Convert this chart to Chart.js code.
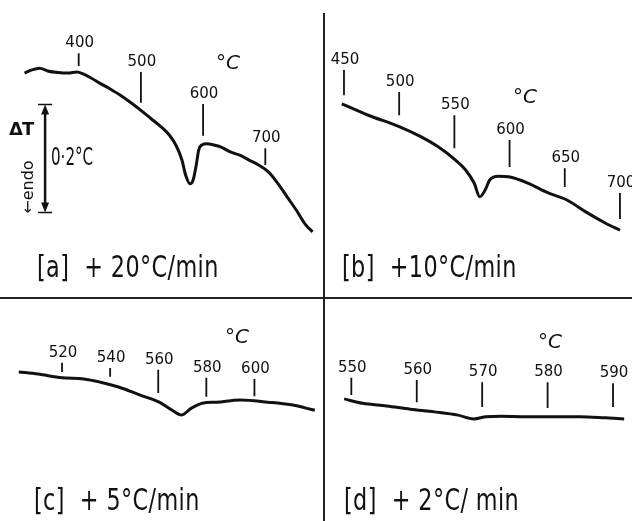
<!DOCTYPE html>
<html>
<head>
<meta charset="utf-8">
<script src="https://cdn.jsdelivr.net/npm/chart.js@4.4.1/dist/chart.umd.min.js"></script>
<style>
  body { margin: 0; background: #fff; }
  #wrap { position: relative; width: 632px; height: 521px; overflow: hidden; background: #fff; color: #111; }
  #wrap canvas { position: absolute; left: 0; top: 0; }
  .txt { position: absolute; white-space: pre; line-height: 1; font-family: "DejaVu Sans", sans-serif; }
  .narrow { font-family: "DejaVu Sans Condensed", "DejaVu Sans", sans-serif; transform-origin: left top; }
  .panel-label { font-size: 31px; letter-spacing: 0.5px; transform: scaleX(0.8); }
  .unit { font-size: 20px; font-style: italic; }
  .vline { position: absolute; left: 323px; top: 13px; width: 2px; height: 508px; background: #222; }
  .hline { position: absolute; left: 0; top: 297px; width: 632px; height: 2px; background: #222; }
</style>
</head>
<body>
<div id="wrap">
  <canvas id="dta" width="632" height="521"></canvas>
  <div class="vline"></div>
  <div class="hline"></div>

  <div class="txt" style="left:9px;top:120px;font-size:18px;font-weight:bold;letter-spacing:-1px">ΔT</div>
  <div class="txt narrow" style="left:51px;top:145px;font-size:24px;transform:scaleX(0.7)">0·2°C</div>
  <div class="txt" style="left:28px;top:187px;font-size:16px;transform:translate(-50%,-50%) rotate(-90deg);transform-origin:center">←endo</div>

  <div class="txt unit" style="left:216px;top:52px">°C</div>
  <div class="txt unit" style="left:513px;top:86px">°C</div>
  <div class="txt unit" style="left:225px;top:326px">°C</div>
  <div class="txt unit" style="left:538px;top:331px">°C</div>

  <div class="txt narrow panel-label" style="left:37px;top:251px">[a]  + 20°C/min</div>
  <div class="txt narrow panel-label" style="left:342px;top:251px">[b]  +10°C/min</div>
  <div class="txt narrow panel-label" style="left:34px;top:484px">[c]  + 5°C/min</div>
  <div class="txt narrow panel-label" style="left:344px;top:484px">[d]  + 2°C/ min</div>
</div>

<script>
// DTA traces; temperature in °C, deflection in units of 0.01 °C
// [a] +20 °C/min
const tempA  = [313, 325, 337, 350, 367, 383, 397, 408, 420, 433, 450, 467, 483, 500, 516, 533, 546, 557, 566, 572, 579, 584, 589, 593, 598, 606, 617, 629, 644, 659, 674, 689, 705, 720, 735, 750, 765, 776];
const deltaA = [23.5, 24.1, 24.4, 23.9, 23.6, 23.5, 23.7, 23.3, 22.6, 21.7, 20.6, 19.4, 18.1, 16.6, 15.1, 13.5, 12.0, 10.0, 7.4, 4.6, 3.0, 3.7, 6.5, 9.3, 10.2, 10.4, 10.2, 9.8, 8.9, 8.3, 7.4, 6.5, 5.2, 3.1, 0.6, -1.9, -4.6, -5.9];
const ticksA    = [400, 500, 600, 700];
const tickTopA  = [27.2, 23.7, 17.8, 9.6];
const tickBaseA = [24.8, 18.0, 11.9, 6.5];

// [b] +10 °C/min
const tempB  = [448, 472, 500, 520, 535, 551, 560, 568, 573, 578, 582, 590, 599, 617, 634, 652, 669, 687, 700];
const deltaB = [17.8, 15.7, 13.6, 11.7, 9.9, 7.4, 5.6, 3.1, 0.6, 1.9, 3.7, 4.4, 4.3, 3.1, 1.4, 0.0, -2.2, -4.3, -5.6];
const ticksB    = [450, 500, 550, 600, 650, 700];
const tickTopB  = [24.1, 20.0, 15.7, 11.1, 5.9, 1.3];
const tickBaseB = [19.4, 15.7, 9.6, 6.1, 2.4, -3.5];

// [c] +5 °C/min
const tempC  = [502, 510, 520, 529, 536, 543.5, 552.5, 560.4, 565.8, 569.6, 573.8, 578.3, 584.3, 594, 605.5, 615.3, 625.1];
const deltaC = [5.2, 4.8, 4.1, 3.9, 3.3, 2.4, 0.9, -0.4, -1.9, -2.8, -1.5, -0.6, -0.4, 0.0, -0.4, -0.9, -1.9];
const ticksC    = [520, 540, 560, 580, 600];
const tickTopC  = [6.9, 5.9, 5.6, 4.1, 3.9];
const tickBaseC = [5.2, 4.3, 1.3, 0.6, 0.7];

// [d] +2 °C/min
const tempD  = [548.9, 551.7, 555.4, 559.0, 562.7, 566.3, 568.7, 570.6, 573.0, 576.6, 580.5, 585.0, 588.8, 591.7];
const deltaD = [0.2, -0.6, -1.1, -1.7, -2.2, -2.8, -3.5, -3.1, -3.0, -3.1, -3.1, -3.1, -3.3, -3.5];
const ticksD    = [550, 560, 570, 580, 590];
const tickTopD  = [4.1, 3.7, 3.3, 3.3, 3.1];
const tickBaseD = [0.9, -0.4, -1.3, -1.5, -1.3];

// 0.2 °C calibration bar on panel [a]
const barTemp = 346;
const barLow = -2.3;
const barSpan = 20;

const INK = '#111';

const panels = [
    { x: 'xa', y: 'yTop', temp: tempA, delta: deltaA, ticks: ticksA, top: tickTopA, base: tickBaseA },
    { x: 'xb', y: 'yTop', temp: tempB, delta: deltaB, ticks: ticksB, top: tickTopB, base: tickBaseB },
    { x: 'xc', y: 'yBottom', temp: tempC, delta: deltaC, ticks: ticksC, top: tickTopC, base: tickBaseC },
    { x: 'xd', y: 'yBottom', temp: tempD, delta: deltaD, ticks: ticksD, top: tickTopD, base: tickBaseD }
];

const datasets = [];
panels.forEach(p => {
    datasets.push({
        data: p.temp.map((t, i) => ({ x: t, y: p.delta[i] })),
        xAxisID: p.x, yAxisID: p.y,
        borderColor: INK, borderWidth: 3,
        cubicInterpolationMode: 'monotone',
        pointRadius: 0, fill: false
    });
    // temperature markers: short vertical strokes above the trace
    datasets.push({
        data: p.ticks.flatMap((t, i) => [{ x: t, y: p.top[i] }, { x: t, y: p.base[i] }, { x: t, y: null }]),
        xAxisID: p.x, yAxisID: p.y,
        borderColor: INK, borderWidth: 1.8, tension: 0,
        spanGaps: false, pointRadius: 0, fill: false
    });
});

const markerLabels = {
    id: 'markerLabels',
    afterDatasetsDraw(chart) {
        const ctx = chart.ctx;
        ctx.save();
        ctx.fillStyle = INK;
        ctx.font = '15px "DejaVu Sans"';
        ctx.textAlign = 'center';
        ctx.textBaseline = 'alphabetic';
        panels.forEach(p => {
            const xs = chart.scales[p.x], ys = chart.scales[p.y];
            p.ticks.forEach((t, i) => {
                ctx.fillText(String(t), xs.getPixelForValue(t) + 1, ys.getPixelForValue(p.top[i]) - 6);
            });
        });

        // calibration bar with arrows
        const x = chart.scales.xa.getPixelForValue(barTemp);
        const y0 = chart.scales.yTop.getPixelForValue(barLow);
        const y1 = chart.scales.yTop.getPixelForValue(barLow + barSpan);
        ctx.strokeStyle = INK;
        ctx.lineWidth = 2.5;
        ctx.beginPath();
        ctx.moveTo(x, y1 + 6); ctx.lineTo(x, y0 - 6);
        ctx.stroke();
        ctx.lineWidth = 1.5;
        ctx.beginPath();
        ctx.moveTo(x - 7, y1); ctx.lineTo(x + 7, y1);
        ctx.moveTo(x - 7, y0); ctx.lineTo(x + 7, y0);
        ctx.stroke();
        ctx.beginPath();
        ctx.moveTo(x, y1); ctx.lineTo(x - 4, y1 + 10); ctx.lineTo(x + 4, y1 + 10); ctx.closePath();
        ctx.moveTo(x, y0); ctx.lineTo(x - 4, y0 - 10); ctx.lineTo(x + 4, y0 - 10); ctx.closePath();
        ctx.fill();
        ctx.restore();
    }
};

const hidden = { type: 'linear', display: false, bounds: 'data' };

new Chart(document.getElementById('dta').getContext('2d'), {
    type: 'line',
    data: { datasets },
    options: {
        responsive: false,
        animation: false,
        layout: { padding: 0 },
        plugins: { legend: { display: false }, tooltip: { enabled: false } },
        scales: {
            xa: { ...hidden, position: 'bottom', min: 273.5, max: 1289.5 },
            xb: { ...hidden, position: 'bottom', min: 138.4, max: 710.9 },
            xc: { ...hidden, position: 'bottom', min: 494.2, max: 757.0 },
            xd: { ...hidden, position: 'bottom', min: 496.3, max: 592.9 },
            yTop: { ...hidden, position: 'left', min: -59.44, max: 37.04 },
            yBottom: { ...hidden, position: 'left', min: -22.41, max: 74.07 }
        }
    },
    plugins: [markerLabels]
});
</script>
</body>
</html>
